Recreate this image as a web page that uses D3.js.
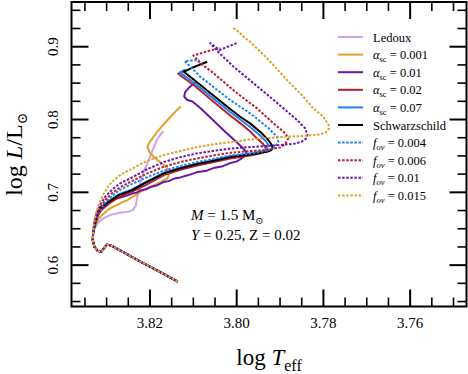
<!DOCTYPE html>
<html>
<head>
<meta charset="utf-8">
<script src="https://cdn.jsdelivr.net/npm/d3@7"></script>
<style>
  body { margin: 0; background: #fff; }
  svg { display: block; font-family: "Liberation Serif", "DejaVu Serif", serif; }
</style>
</head>
<body>
<svg id="chart" width="468" height="374"></svg>
<script>
// ---- data: [log Teff, log L/Lsun] ----
const preMS = [[3.8136,0.5773],[3.8176,0.5904],[3.8222,0.6048],[3.8268,0.6199],[3.8289,0.6268],[3.8299,0.6282],
  [3.8306,0.6234],[3.8312,0.6186],[3.8320,0.6193],[3.8328,0.6248],[3.8332,0.6344],[3.8331,0.6454]];

const ledoux = [[3.8329,0.6488],[3.8325,0.6529],[3.8319,0.6591],[3.8307,0.6646],[3.8289,0.6694],[3.8266,0.6722],
  [3.8249,0.6735],[3.8240,0.6756],[3.8233,0.6811],[3.8230,0.6921],[3.8225,0.7058],[3.8220,0.7182],[3.8213,0.7306],
  [3.8203,0.7443],[3.8194,0.7580],[3.8184,0.7718],[3.8175,0.7800],[3.8169,0.7842]];

const asc001 = [[3.8329,0.6509],[3.8325,0.6557],[3.8318,0.6642],[3.8302,0.6733],[3.8291,0.6783],[3.8279,0.6818],
  [3.8264,0.6866],[3.8254,0.6886],[3.8241,0.6935],[3.8231,0.6969],[3.8222,0.7010],[3.8210,0.7038],[3.8199,0.7072],
  [3.8187,0.7106],[3.8176,0.7141],[3.8160,0.7189],[3.8156,0.7251],[3.8161,0.7333],[3.8174,0.7402],[3.8190,0.7477],
  [3.8201,0.7553],[3.8206,0.7622],[3.8202,0.7677],[3.8194,0.7745],[3.8183,0.7832],[3.8169,0.7931],[3.8153,0.8034],
  [3.8139,0.8123],[3.8129,0.8178]];

const asc01 = [[3.8329,0.6526],[3.8325,0.6605],[3.8322,0.6664],[3.8315,0.6735],[3.8306,0.6801],[3.8298,0.6852],
  [3.8287,0.6893],[3.8277,0.6914],[3.8264,0.6937],[3.8254,0.6955],[3.8241,0.6983],[3.8231,0.6996],[3.8222,0.7024],
  [3.8210,0.7042],[3.8199,0.7072],[3.8185,0.7093],[3.8169,0.7141],[3.8157,0.7154],[3.8144,0.7189],[3.8130,0.7205],
  [3.8111,0.7237],[3.8091,0.7278],[3.8072,0.7292],[3.8054,0.7333],[3.8035,0.7354],[3.8015,0.7402],[3.8001,0.7422],
  [3.7989,0.7464],[3.7980,0.7505],[3.7978,0.7553],[3.7985,0.7601],[3.8003,0.7704],[3.8026,0.7828],[3.8056,0.8000],
  [3.8084,0.8158],[3.8102,0.8247],[3.8114,0.8268],[3.8121,0.8316],[3.8119,0.8377],[3.8111,0.8432],[3.8100,0.8487],
  [3.8091,0.8522]];

const asc02 = [[3.8329,0.6502],[3.8324,0.6605],[3.8319,0.6694],[3.8313,0.6756],[3.8293,0.6852],[3.8270,0.6941],
  [3.8241,0.7010],[3.8210,0.7099],[3.8168,0.7237],[3.8130,0.7308],[3.8091,0.7367],[3.8053,0.7416],[3.8015,0.7464],
  [3.7969,0.7505],[3.7946,0.7532],[3.7935,0.7567],[3.7933,0.7608],[3.7939,0.7663],[3.7953,0.7738],[3.7969,0.7835],
  [3.7992,0.7951],[3.8015,0.8055],[3.8061,0.8281],[3.8095,0.8453],[3.8135,0.8628],[3.8125,0.8652]];

const asc07 = [[3.8329,0.6508],[3.8325,0.6625],[3.8320,0.6722],[3.8314,0.6790],[3.8295,0.6880],[3.8272,0.6972],
  [3.8241,0.7040],[3.8210,0.7141],[3.8168,0.7268],[3.8130,0.7337],[3.8091,0.7395],[3.8053,0.7443],[3.8015,0.7491],
  [3.7969,0.7532],[3.7941,0.7560],[3.7931,0.7594],[3.7927,0.7649],[3.7932,0.7697],[3.7946,0.7780],[3.7969,0.7897],
  [3.7992,0.8000],[3.8015,0.8103],[3.8061,0.8323],[3.8095,0.8487],[3.8131,0.8648],[3.8118,0.8687]];

const schwarz = [[3.8329,0.6504],[3.8325,0.6618],[3.8320,0.6715],[3.8314,0.6783],[3.8295,0.6870],[3.8272,0.6962],
  [3.8241,0.7031],[3.8210,0.7134],[3.8168,0.7260],[3.8130,0.7329],[3.8091,0.7388],[3.8053,0.7433],[3.8015,0.7484],
  [3.7969,0.7521],[3.7930,0.7557],[3.7920,0.7580],[3.7917,0.7612],[3.7919,0.7649],[3.7927,0.7718],[3.7942,0.7810],
  [3.7969,0.7947],[3.7992,0.8038],[3.8015,0.8144],[3.8061,0.8364],[3.8095,0.8529],[3.8122,0.8656],[3.8107,0.8700],
  [3.8084,0.8755],[3.8068,0.8794]];

const fov004 = [[3.8328,0.6550],[3.8321,0.6673],[3.8312,0.6790],[3.8299,0.6886],[3.8285,0.6962],[3.8268,0.7038],
  [3.8245,0.7106],[3.8206,0.7209],[3.8168,0.7299],[3.8130,0.7361],[3.8091,0.7416],[3.8049,0.7464],[3.8015,0.7505],
  [3.7969,0.7532],[3.7930,0.7574],[3.7913,0.7615],[3.7904,0.7695],[3.7907,0.7763],[3.7930,0.7901],[3.7969,0.8085],
  [3.8015,0.8268],[3.8084,0.8588],[3.8111,0.8749],[3.8120,0.8803],[3.8104,0.8810],[3.8086,0.8817]];

const fov006 = [[3.8328,0.6564],[3.8322,0.6687],[3.8313,0.6811],[3.8300,0.6914],[3.8286,0.6996],[3.8268,0.7072],
  [3.8245,0.7145],[3.8206,0.7260],[3.8168,0.7351],[3.8130,0.7416],[3.8091,0.7466],[3.8049,0.7512],[3.8015,0.7543],
  [3.7969,0.7567],[3.7934,0.7580],[3.7900,0.7615],[3.7888,0.7663],[3.7881,0.7741],[3.7888,0.7810],[3.7915,0.7947],
  [3.7953,0.8153],[3.7999,0.8360],[3.8053,0.8634],[3.8084,0.8776],[3.8100,0.8879],[3.8084,0.8907],[3.8061,0.8948],
  [3.8038,0.8982]];

const fov01 = [[3.8329,0.6577],[3.8323,0.6715],[3.8314,0.6838],[3.8302,0.6948],[3.8286,0.7044],[3.8268,0.7127],
  [3.8245,0.7192],[3.8206,0.7319],[3.8168,0.7416],[3.8130,0.7484],[3.8091,0.7535],[3.8049,0.7574],[3.8015,0.7601],
  [3.7969,0.7622],[3.7900,0.7649],[3.7865,0.7670],[3.7850,0.7695],[3.7840,0.7738],[3.7837,0.7787],[3.7842,0.7879],
  [3.7861,0.7993],[3.7892,0.8153],[3.7923,0.8309],[3.7969,0.8536],[3.8007,0.8725],[3.8038,0.8900],[3.8054,0.9003],
  [3.8061,0.9051],[3.8052,0.9010],[3.8040,0.8955],[3.8019,0.9003],[3.7999,0.9051]];

const fov015 = [[3.8329,0.6591],[3.8324,0.6728],[3.8316,0.6866],[3.8306,0.6985],[3.8296,0.7086],[3.8283,0.7168],
  [3.8266,0.7251],[3.8245,0.7312],[3.8222,0.7388],[3.8199,0.7450],[3.8164,0.7519],[3.8130,0.7567],[3.8091,0.7622],
  [3.8049,0.7663],[3.8015,0.7690],[3.7969,0.7725],[3.7900,0.7759],[3.7838,0.7777],[3.7808,0.7793],[3.7794,0.7828],
  [3.7787,0.7879],[3.7788,0.7924],[3.7800,0.8038],[3.7823,0.8153],[3.7850,0.8336],[3.7884,0.8542],[3.7930,0.8841],
  [3.7964,0.9037],[3.7971,0.9078],[3.7980,0.9113],[3.7989,0.9168],[3.8001,0.9229],[3.8008,0.9257]];

const xTicks = [3.82, 3.80, 3.78, 3.76];
const yTicks = [0.6, 0.7, 0.8, 0.9];

// tracks in legend (and drawing) order
const tracks = [
  {data: ledoux,  color: "#c9a3ef", dash: null, label: [{t: "Ledoux"}]},
  {data: asc001,  color: "#dfa12a", dash: null, label: [{t: "α", i: 1}, {t: "sc", sub: 1}, {t: " = 0.001"}]},
  {data: asc01,   color: "#6c17a6", dash: null, label: [{t: "α", i: 1}, {t: "sc", sub: 1}, {t: " = 0.01"}]},
  {data: asc02,   color: "#b8212b", dash: null, label: [{t: "α", i: 1}, {t: "sc", sub: 1}, {t: " = 0.02"}]},
  {data: asc07,   color: "#2280f6", dash: null, label: [{t: "α", i: 1}, {t: "sc", sub: 1}, {t: " = 0.07"}]},
  {data: schwarz, color: "#000000", dash: null, label: [{t: "Schwarzschild"}]},
  {data: fov004,  color: "#2280f6", dash: "2.5,1.6", label: [{t: "f", i: 1}, {t: "ov", sub: 1, i: 1}, {t: " = 0.004"}]},
  {data: fov006,  color: "#b8212b", dash: "2.5,1.6", label: [{t: "f", i: 1}, {t: "ov", sub: 1, i: 1}, {t: " = 0.006"}]},
  {data: fov01,   color: "#6c17a6", dash: "2.5,1.6", offset: 2, label: [{t: "f", i: 1}, {t: "ov", sub: 1, i: 1}, {t: " = 0.01"}]},
  {data: fov015,  color: "#dfa12a", dash: "2.5,1.6", label: [{t: "f", i: 1}, {t: "ov", sub: 1, i: 1}, {t: " = 0.015"}]}
];

// ---- layout ----
const plot = {left: 71.5, right: 466.5, top: 2, bottom: 306.5};
const svg = d3.select("#chart");

const x = d3.scaleLinear().domain([3.8381, 3.7470]).range([plot.left, plot.right]);
const y = d3.scaleLinear().domain([0.5432, 0.9614]).range([plot.bottom, plot.top]);

/**
 * Appends tspans to a text element. Parts: {t, i (italic), sub (subscript)}
 */
function richText(text, parts, subSize) {
  let shifted = false;
  parts.forEach(p => {
    const ts = text.append("tspan").text(p.t);
    if (p.i) ts.attr("font-style", "italic");
    if (p.sub) {
      ts.attr("font-size", subSize).attr("dy", subSize * 0.35);
      shifted = true;
    } else if (shifted) {
      ts.attr("dy", -subSize * 0.35);
      shifted = false;
    }
  });
}

svg.append("clipPath").attr("id", "clip")
  .append("rect")
  .attr("x", plot.left).attr("y", plot.top)
  .attr("width", plot.right - plot.left).attr("height", plot.bottom - plot.top);

// tracks
const line = d3.line().x(d => x(d[0])).y(d => y(d[1]));
const trackG = svg.append("g").attr("clip-path", "url(#clip)");
tracks.forEach(tr => {
  trackG.append("path")
    .attr("d", line(preMS.concat(tr.data)))
    .attr("fill", "none")
    .attr("stroke", tr.color)
    .attr("stroke-width", 2)
    .attr("stroke-linejoin", "round")
    .attr("stroke-dasharray", tr.dash)
    .attr("stroke-dashoffset", tr.offset || 0);
});

// axes: inward ticks on all four sides
const xMinor = d3.range(3.750, 3.8376, 0.005);
const yMinor = d3.range(0.55, 0.951, 0.025);
const majLen = 17, minLen = 9;

function tickLines(values, isX, isMajor) {
  const len = isMajor ? majLen : minLen;
  const g = svg.append("g")
    .attr("stroke", "#000")
    .attr("stroke-width", isMajor ? 2 : 1.6);
  values.forEach(v => {
    if (isX) {
      const px = x(v);
      g.append("line").attr("x1", px).attr("x2", px).attr("y1", plot.bottom).attr("y2", plot.bottom - len);
      g.append("line").attr("x1", px).attr("x2", px).attr("y1", plot.top).attr("y2", plot.top + len);
    } else {
      const py = y(v);
      g.append("line").attr("y1", py).attr("y2", py).attr("x1", plot.left).attr("x2", plot.left + len);
      g.append("line").attr("y1", py).attr("y2", py).attr("x1", plot.right).attr("x2", plot.right - len);
    }
  });
}
tickLines(xMinor.filter(v => !xTicks.some(t => Math.abs(t - v) < 1e-6)), true, false);
tickLines(xTicks, true, true);
tickLines(yMinor.filter(v => !yTicks.some(t => Math.abs(t - v) < 1e-6)), false, false);
tickLines(yTicks, false, true);

svg.append("rect")
  .attr("x", plot.left).attr("y", plot.top)
  .attr("width", plot.right - plot.left).attr("height", plot.bottom - plot.top)
  .attr("fill", "none").attr("stroke", "#000").attr("stroke-width", 2);

// tick labels
svg.append("g").selectAll("text").data(xTicks).join("text")
  .attr("x", d => x(d)).attr("y", 328)
  .attr("text-anchor", "middle").attr("font-size", 15)
  .text(d => d.toFixed(2));

svg.append("g").selectAll("text").data(yTicks).join("text")
  .attr("transform", d => `translate(58, ${y(d)}) rotate(-90)`)
  .attr("text-anchor", "middle").attr("font-size", 15)
  .text(d => d.toFixed(1));

// axis titles
const xTitle = svg.append("text")
  .attr("x", (plot.left + plot.right) / 2).attr("y", 365)
  .attr("text-anchor", "middle").attr("font-size", 23);
richText(xTitle, [{t: "log "}, {t: "T", i: 1}, {t: "eff", sub: 1}], 16);

const yTitle = svg.append("text")
  .attr("transform", `translate(22, ${(plot.top + plot.bottom) / 2}) rotate(-90)`)
  .attr("text-anchor", "middle").attr("font-size", 24);
richText(yTitle, [{t: "log "}, {t: "L", i: 1}, {t: "/L"}, {t: "⊙", sub: 1}], 14);

// annotation
const note1 = svg.append("text").attr("x", 191).attr("y", 220).attr("font-size", 15);
richText(note1, [{t: "M", i: 1}, {t: " = 1.5 M"}, {t: "⊙", sub: 1}], 10);
const note2 = svg.append("text").attr("x", 191).attr("y", 240).attr("font-size", 15);
richText(note2, [{t: "Y", i: 1}, {t: " = 0.25, Z = 0.02"}], 10);

// legend
const legend = svg.append("g").attr("transform", "translate(338, 37)");
tracks.forEach((tr, i) => {
  const row = legend.append("g").attr("transform", `translate(0, ${i * 17.6})`);
  row.append("line")
    .attr("x1", 0).attr("x2", 25).attr("y1", 0).attr("y2", 0)
    .attr("stroke", tr.color).attr("stroke-width", 2)
    .attr("stroke-dasharray", tr.dash);
  const t = row.append("text").attr("x", 35).attr("y", 4.5).attr("font-size", 12.5);
  richText(t, tr.label, 8.5);
});
</script>
</body>
</html>
